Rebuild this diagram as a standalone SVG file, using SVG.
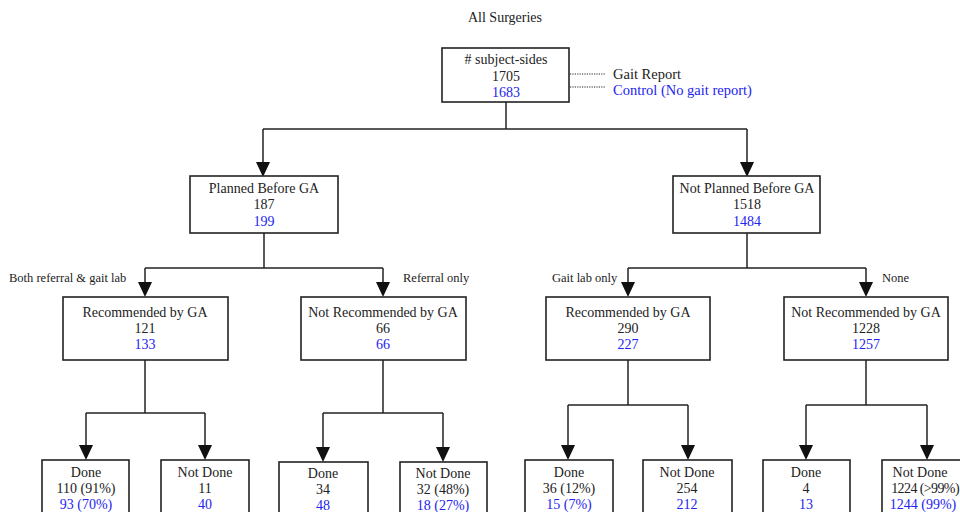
<svg xmlns="http://www.w3.org/2000/svg" width="960" height="512" viewBox="0 0 960 512">
<style>
text{font-family:"Liberation Serif","Times New Roman",serif;font-size:14px;fill:#222;text-anchor:middle}
.b{fill:#2323f0}
.lbl{font-size:12.5px;text-anchor:start}
.leg{font-size:14.5px;text-anchor:start}
rect{fill:#fff;stroke:#222;stroke-width:1.6}
.c path{fill:none;stroke:#222;stroke-width:1.5}
.c .ah{fill:#111;stroke:none}
.dot{stroke:#222;stroke-width:1;stroke-dasharray:1.2 1.2}
</style>
<rect width="960" height="512" style="fill:#fff;stroke:none"/>
<text x="505" y="22">All Surgeries</text>

<g class="c" id="connectors">
<path d="M506,102 V129"/>
<path d="M263,129 H747"/>
<path d="M263,129 V162"/><path d="M747,129 V162"/>
<path d="M264,233 V268"/>
<path d="M145,268 H383"/>
<path d="M145,268 V282"/><path d="M383,268 V282"/>
<path d="M747,233 V268"/>
<path d="M628,268 H866"/>
<path d="M628,268 V282"/><path d="M866,268 V282"/>
<path d="M145,360 V413"/>
<path d="M86,413 H205"/>
<path d="M86,413 V445"/><path d="M205,413 V445"/>
<path d="M383,360 V413"/>
<path d="M323,413 H443"/>
<path d="M323,413 V447"/><path d="M443,413 V447"/>
<path d="M628,360 V405"/>
<path d="M568,405 H688"/>
<path d="M568,405 V445"/><path d="M688,405 V445"/>
<path d="M866,360 V405"/>
<path d="M806,405 H927"/>
<path d="M806,405 V445"/><path d="M927,405 V445"/>
<path class="ah" d="M256,162 H270 L263,177 Z"/>
<path class="ah" d="M740,162 H754 L747,177 Z"/>
<path class="ah" d="M138,282 H152 L145,297 Z"/>
<path class="ah" d="M376,282 H390 L383,297 Z"/>
<path class="ah" d="M621,282 H635 L628,297 Z"/>
<path class="ah" d="M859,282 H873 L866,297 Z"/>
<path class="ah" d="M79,445 H93 L86,460 Z"/>
<path class="ah" d="M198,445 H212 L205,460 Z"/>
<path class="ah" d="M316,447 H330 L323,462 Z"/>
<path class="ah" d="M436,447 H450 L443,462 Z"/>
<path class="ah" d="M561,445 H575 L568,460 Z"/>
<path class="ah" d="M681,445 H695 L688,460 Z"/>
<path class="ah" d="M799,445 H813 L806,460 Z"/>
<path class="ah" d="M920,445 H934 L927,460 Z"/>
<line class="dot" x1="570" y1="74" x2="606" y2="74"/>
<line class="dot" x1="570" y1="87" x2="606" y2="87"/>
</g>

<g id="legend">
<text class="leg" x="613" y="79">Gait Report</text>
<text class="leg b" x="613" y="95">Control (No gait report)</text>
</g>

<g id="root">
<rect x="442" y="48" width="127" height="54"/>
<text x="506" y="64"># subject-sides</text>
<text x="506" y="81">1705</text>
<text class="b" x="506" y="97">1683</text>
</g>

<g id="planned">
<rect x="190" y="176" width="148" height="57"/>
<text x="264" y="193">Planned Before GA</text>
<text x="264" y="209">187</text>
<text class="b" x="264" y="226">199</text>
</g>
<g id="notplanned">
<rect x="673" y="176" width="147" height="57"/>
<text x="747" y="193">Not Planned Before GA</text>
<text x="747" y="209">1518</text>
<text class="b" x="747" y="226">1484</text>
</g>

<g id="labels">
<text class="lbl" x="9" y="282">Both referral &amp; gait lab</text>
<text class="lbl" x="403" y="282">Referral only</text>
<text class="lbl" x="552" y="282">Gait lab only</text>
<text class="lbl" x="882" y="282">None</text>
</g>

<g id="rec1">
<rect x="63" y="297" width="165" height="63"/>
<text x="145" y="317">Recommended by GA</text>
<text x="145" y="333">121</text>
<text class="b" x="145" y="349">133</text>
</g>
<g id="notrec1">
<rect x="301" y="297" width="165" height="63"/>
<text x="383" y="317">Not Recommended by GA</text>
<text x="383" y="333">66</text>
<text class="b" x="383" y="349">66</text>
</g>
<g id="rec2">
<rect x="546" y="297" width="164" height="63"/>
<text x="628" y="317">Recommended by GA</text>
<text x="628" y="333">290</text>
<text class="b" x="628" y="349">227</text>
</g>
<g id="notrec2">
<rect x="784" y="297" width="164" height="63"/>
<text x="866" y="317">Not Recommended by GA</text>
<text x="866" y="333">1228</text>
<text class="b" x="866" y="349">1257</text>
</g>

<g id="done1">
<rect x="42" y="460" width="87" height="70"/>
<text x="86" y="477">Done</text>
<text x="86" y="493">110 (91%)</text>
<text class="b" x="86" y="509">93 (70%)</text>
</g>
<g id="notdone1">
<rect x="161" y="460" width="88" height="70"/>
<text x="205" y="477">Not Done</text>
<text x="205" y="493">11</text>
<text class="b" x="205" y="509">40</text>
</g>
<g id="done2">
<rect x="279" y="462" width="89" height="70"/>
<text x="323" y="478">Done</text>
<text x="323" y="494">34</text>
<text class="b" x="323" y="510">48</text>
</g>
<g id="notdone2">
<rect x="400" y="462" width="87" height="70"/>
<text x="443" y="478">Not Done</text>
<text x="443" y="494">32 (48%)</text>
<text class="b" x="443" y="510">18 (27%)</text>
</g>
<g id="done3">
<rect x="525" y="460" width="88" height="70"/>
<text x="569" y="477">Done</text>
<text x="569" y="493">36 (12%)</text>
<text class="b" x="569" y="509">15 (7%)</text>
</g>
<g id="notdone3">
<rect x="643" y="460" width="89" height="70"/>
<text x="687" y="477">Not Done</text>
<text x="687" y="493">254</text>
<text class="b" x="687" y="509">212</text>
</g>
<g id="done4">
<rect x="763" y="460" width="87" height="70"/>
<text x="806" y="477">Done</text>
<text x="806" y="493">4</text>
<text class="b" x="806" y="509">13</text>
</g>
<g id="notdone4">
<rect x="882" y="460" width="90" height="70"/>
<text x="920" y="477">Not Done</text>
<text x="959" y="493" style="text-anchor:end;letter-spacing:-0.6px">1224 (&gt;99%)</text>
<text class="b" x="923" y="509">1244 (99%)</text>
</g>
</svg>
